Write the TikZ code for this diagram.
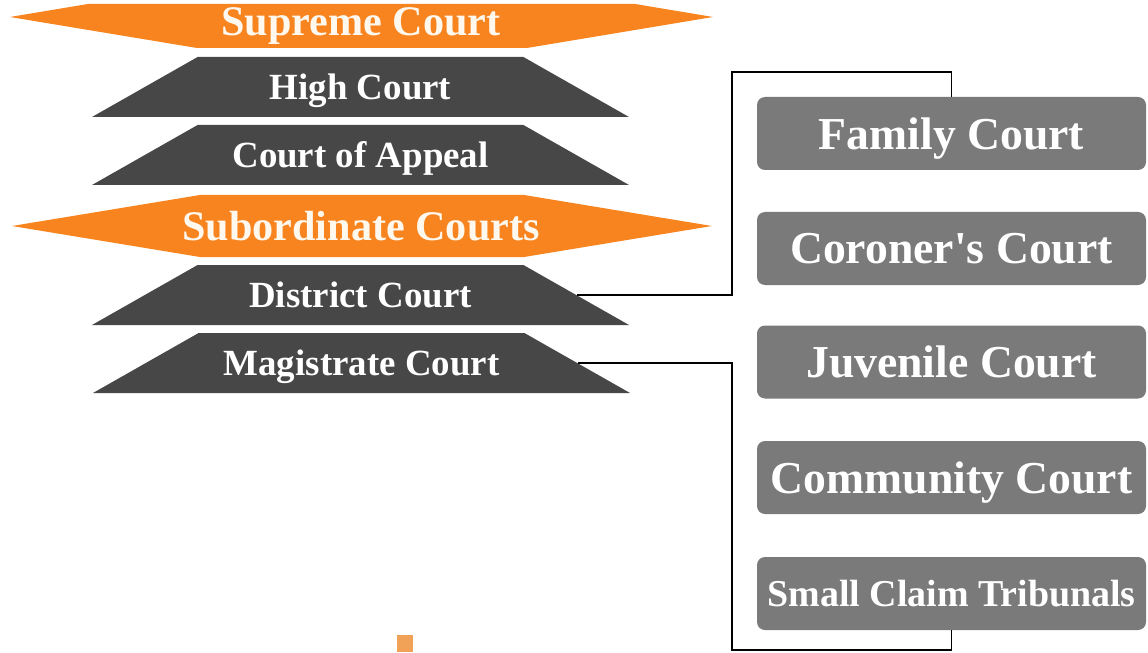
\documentclass[tikz,border=0pt]{standalone}
\usepackage{fontspec}
\setmainfont{Liberation Serif}
\usetikzlibrary{shapes.geometric}
\definecolor{courtorange}{HTML}{F7841F}
\definecolor{courtdark}{HTML}{474747}
\definecolor{courtgray}{HTML}{7A7A7A}
\definecolor{courttext}{HTML}{FFF8EE}
\definecolor{dotorange}{HTML}{F2A256}
\begin{document}
\begin{tikzpicture}[
	band/.style={text=courttext, text depth=0pt, font=\fontsize{24}{28}\selectfont\bfseries},
	tier/.style={trapezium, trapezium angle=29.6, trapezium stretches body=true, fill=courtdark,
		minimum width=10.74cm, inner sep=0pt, text height=0.845cm, text depth=0.355cm,
		text=white, font=\fontsize{21}{25}\selectfont\bfseries},
	courtbox/.style={rectangle, rounded corners=0.16cm, fill=courtgray, minimum width=7.78cm,
		minimum height=1.46cm, text depth=0pt, text=white, font=\fontsize{26}{30}\selectfont\bfseries},
	link/.style={draw=black, line width=0.9pt}
	]
			\clip(0, 0) rectangle (22.96, 13.04);

			% orange bands
			\fill[courtorange](0.2, 12.7) -- (1.76, 12.96) -- (12.7, 12.96) -- (14.26, 12.7) -- (10.54, 12.08) -- (3.94, 12.08) -- cycle;
				\node[band] (supreme) at(7.22, 12.6){Supreme Court};
			\fill[courtorange](0.24, 8.52) -- (4.0, 9.14) -- (10.48, 9.14) -- (14.24, 8.52) -- (10.48, 7.9) -- (4.0, 7.9) -- cycle;
				\node[band] (subordinate) at(7.22, 8.52){Subordinate Courts};

			% dark tiers
			\node[tier] (high) at(7.21, 11.30){High Court};
			\node[tier] (appeal) at(7.21, 9.94){Court of Appeal};
			\node[tier] (district) at(7.21, 7.14){District Court};
			\node[tier] (magistrate) at(7.23, 5.78){Magistrate Court};

			% grey boxes
			\node[courtbox] (family) at(19.03, 10.37){Family Court};
			\node[courtbox] (coroner) at(19.03, 8.07){Coroner\textquotesingle s Court};
			\node[courtbox] (juvenile) at(19.03, 5.80){Juvenile Court};
			\node[courtbox] (community) at(19.03, 3.49){Community Court};
			\node[courtbox, font=\fontsize{21.6}{25}\selectfont\bfseries] (claims) at(19.03, 1.17){Small Claim Tribunals};

			\draw[link](district.east) -| (14.64, 11.6) -| (family.north);
			\draw[link](magistrate.east) -| (14.64, 0.04) -| (claims.south);

			\fill[dotorange](7.94, 0) rectangle (8.26, 0.34);
\end{tikzpicture}
\end{document}
